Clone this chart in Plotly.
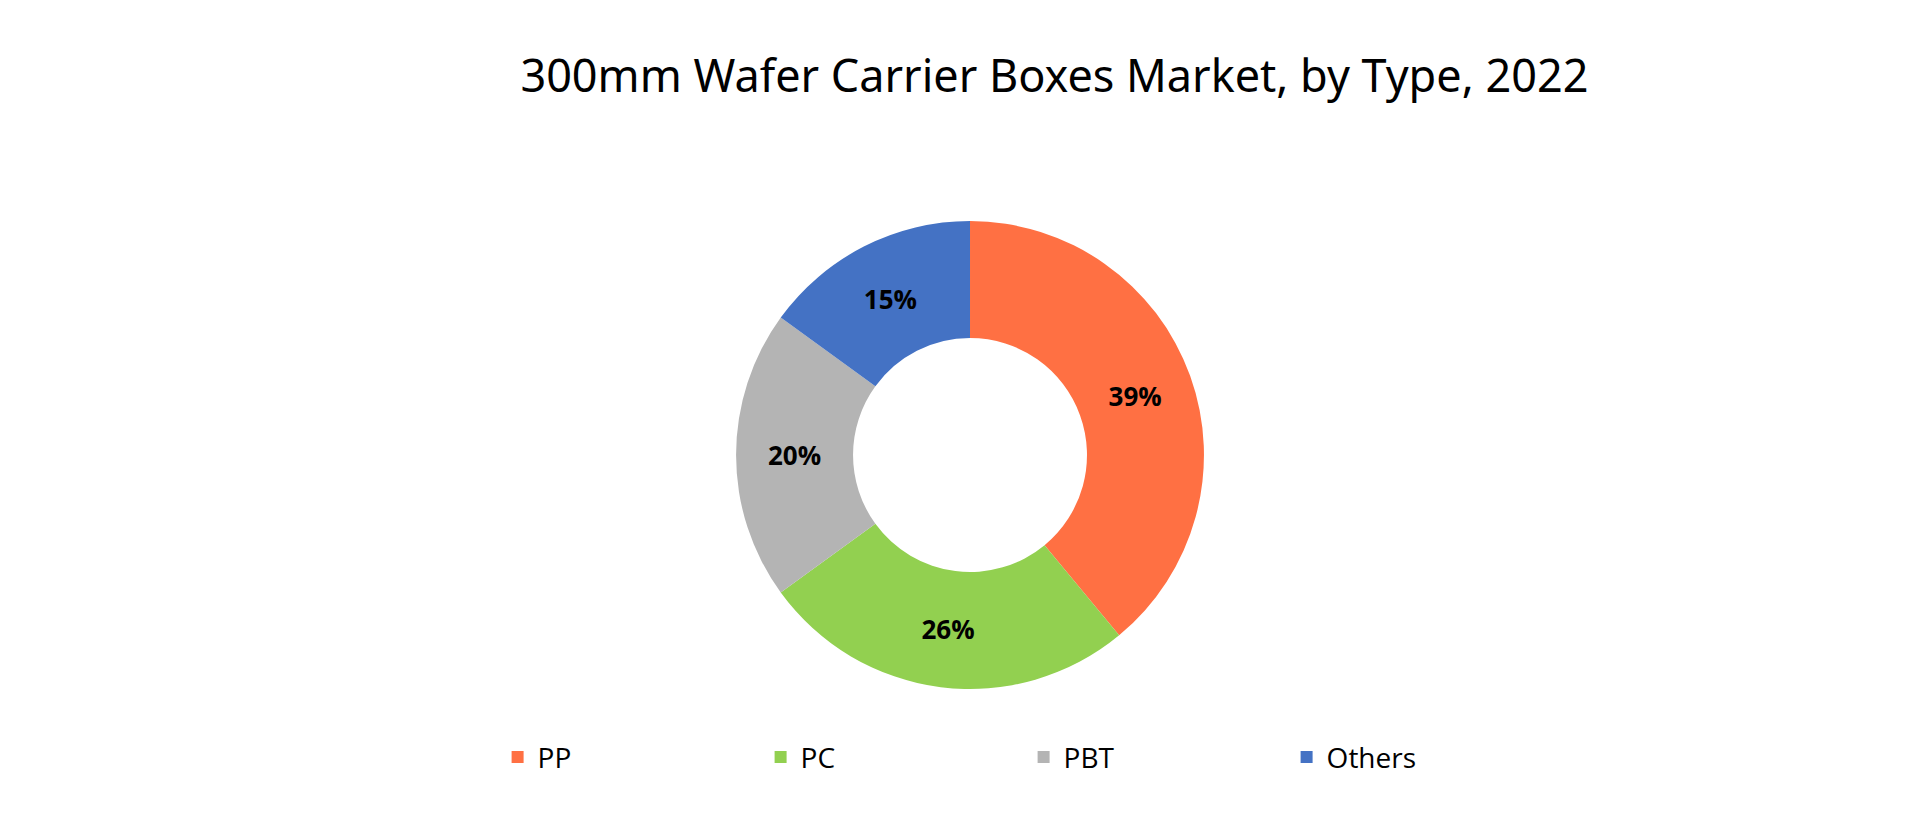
import plotly.graph_objects as go

# Market share by type, 2022
types = ["PP", "PC", "PBT", "Others"]
shares = [39, 26, 20, 15]
colors = ["#FF7043", "#92D050", "#B4B4B4", "#4472C4"]

fig = go.Figure()
fig.add_trace(go.Pie(
    labels=types,
    values=shares,
    hole=0.5,
    sort=False,
    direction="clockwise",
    rotation=0,
    marker=dict(colors=colors, line=dict(width=0)),
    texttemplate="<b>%{value}%</b>",
    textposition="inside",
    insidetextorientation="horizontal",
    textfont=dict(family="Open Sans", size=26, color="black"),
    hoverinfo="label+percent",
    domain=dict(x=[0.3792, 0.6229], y=[0.1675, 0.7395]),
))

fig.update_layout(
    width=1920,
    height=818,
    margin=dict(l=0, r=0, t=0, b=0),
    paper_bgcolor="white",
    plot_bgcolor="white",
    title=dict(
        text="300mm Wafer Carrier Boxes Market, by Type, 2022",
        x=0.545,
        y=0.917,
        xanchor="center",
        yanchor="middle",
        font=dict(family="Noto Sans", size=45, color="black"),
    ),
    legend=dict(
        orientation="h",
        x=0.255,
        y=0.084,
        xanchor="left",
        yanchor="middle",
        entrywidth=218,
        entrywidthmode="pixels",
        font=dict(family="Open Sans", size=28, color="black"),
        itemsizing="constant",
    ),
)

fig.write_html("out.html")
